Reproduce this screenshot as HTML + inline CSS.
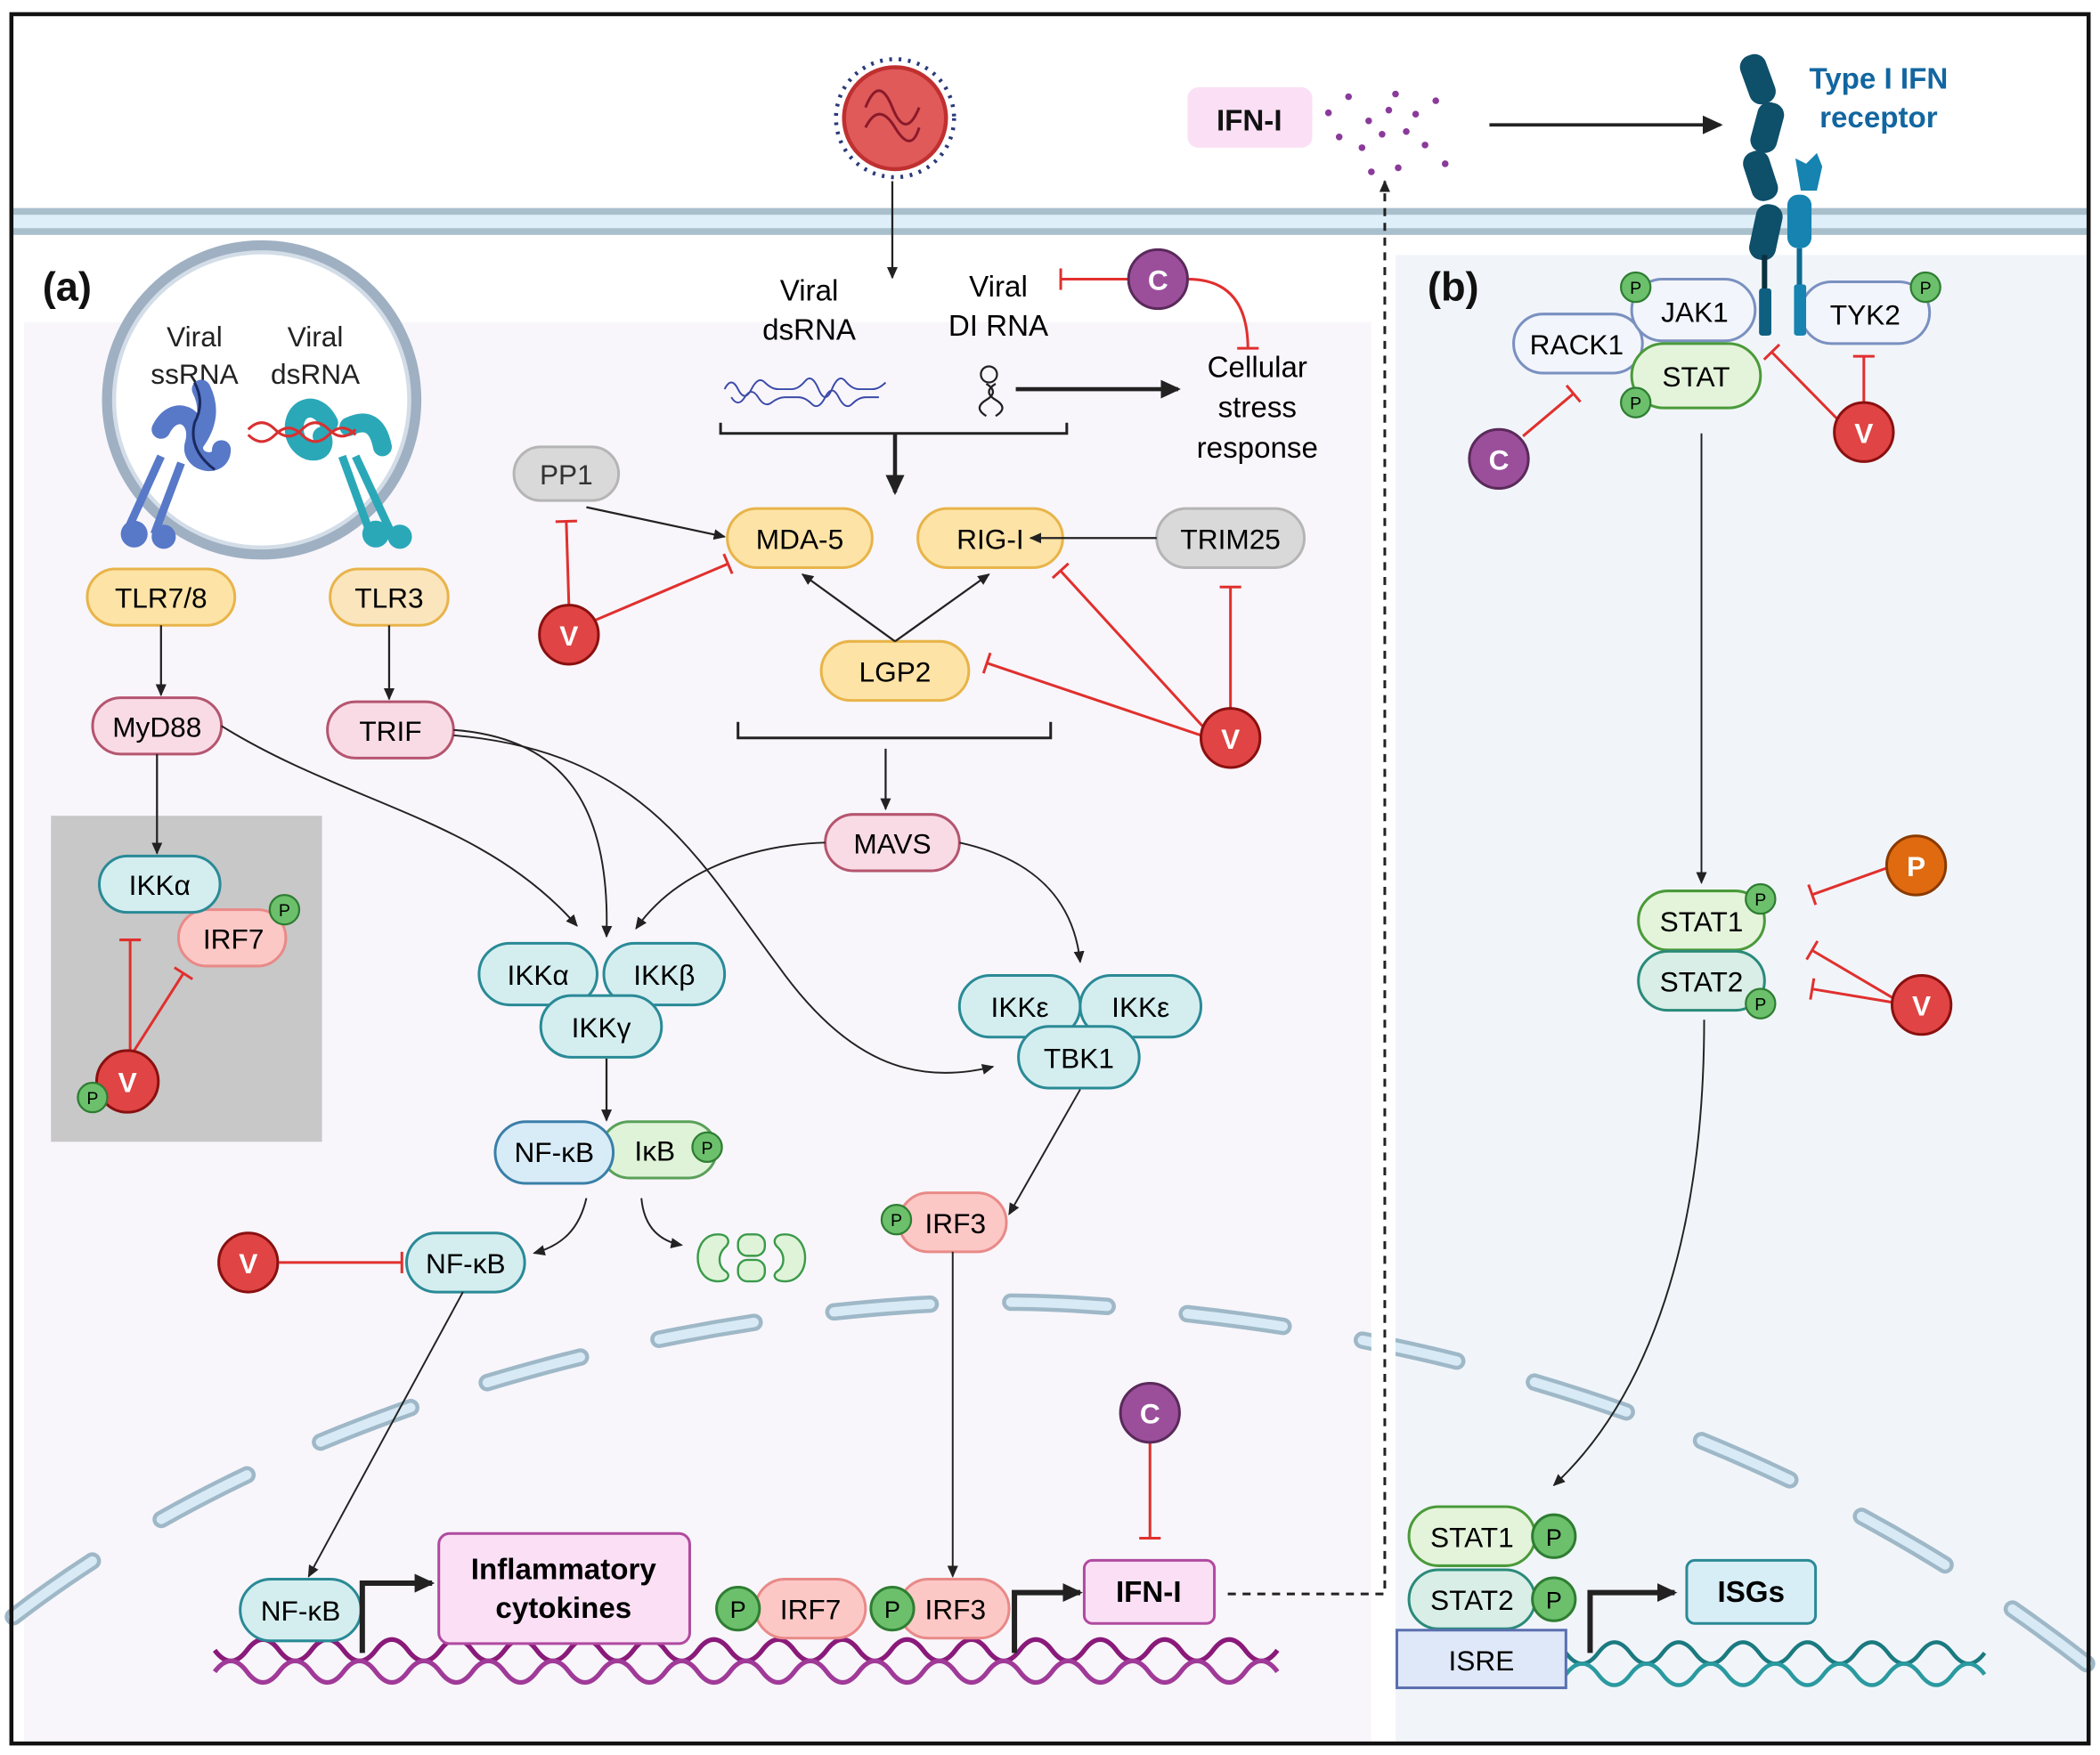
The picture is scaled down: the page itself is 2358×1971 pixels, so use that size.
<!DOCTYPE html>
<html><head><meta charset="utf-8">
<style>
html,body{margin:0;padding:0;background:#fff;}
svg{display:block;}
text{font-family:"Liberation Sans",sans-serif;}
</style></head><body>
<svg width="2358" height="1971" viewBox="0 0 1565 1308" xmlns="http://www.w3.org/2000/svg">
<defs>
<marker id="ar" markerWidth="10" markerHeight="10" refX="8" refY="5" orient="auto" markerUnits="userSpaceOnUse"><path d="M0,1 L9,5 L0,9 Z" fill="#222"/></marker>
<marker id="arb" markerWidth="16" markerHeight="16" refX="13" refY="8" orient="auto" markerUnits="userSpaceOnUse"><path d="M0,1 L15,8 L0,15 Z" fill="#222"/></marker>
<marker id="bar" markerWidth="4" markerHeight="20" refX="2" refY="10" orient="auto" markerUnits="userSpaceOnUse"><rect x="0.5" y="2" width="2" height="16" fill="#e0302e"/></marker>
</defs>
<rect x="0" y="0" width="1565" height="1308" fill="#fff"/>
<rect x="18" y="240" width="1004" height="1058" fill="#f8f6fb"/>
<rect x="1040" y="190" width="515" height="1108" fill="#f1f5f9"/>
<rect x="10" y="155" width="1545" height="20" fill="#dfeff9"/>
<rect x="10" y="155" width="1545" height="5" fill="#a9bfcc"/>
<rect x="10" y="170" width="1545" height="5" fill="#a9bfcc"/>
<path d="M10,1205 C 250,1020 600,960 800,972 C 1100,990 1350,1080 1555,1240" fill="none" stroke="#9fb8c8" stroke-width="13" stroke-linecap="round" stroke-dasharray="72 60"/>
<path d="M10,1205 C 250,1020 600,960 800,972 C 1100,990 1350,1080 1555,1240" fill="none" stroke="#d8eaf5" stroke-width="7" stroke-linecap="round" stroke-dasharray="72 60"/>
<rect x="1022" y="960" width="18" height="338" fill="#fff"/>
<rect x="8.5" y="10.5" width="1548" height="1289" fill="none" stroke="#111" stroke-width="3"/>

<g>
<circle cx="667" cy="88" r="44" fill="none" stroke="#2a3a7a" stroke-width="3" stroke-dasharray="2 5"/>
<circle cx="667" cy="88" r="38" fill="#e05a5a" stroke="#c03030" stroke-width="3"/>
<path d="M645,80 q10,-25 20,0 t20,0 M645,95 q10,-20 22,0 t18,0" fill="none" stroke="#8a1a2a" stroke-width="2"/>
</g>
<rect x="885" y="65" width="93" height="45" rx="8" fill="#fbe0f5"/>
<text x="931" y="97" font-size="22" font-weight="bold" text-anchor="middle" fill="#111">IFN-I</text>
<g fill="#8a3a9a">
<circle cx="990" cy="84" r="2.5"/><circle cx="1005" cy="72" r="2.5"/><circle cx="1020" cy="90" r="2.5"/><circle cx="1040" cy="70" r="2.5"/><circle cx="1055" cy="85" r="2.5"/><circle cx="1070" cy="75" r="2.5"/><circle cx="998" cy="102" r="2.5"/><circle cx="1015" cy="110" r="2.5"/><circle cx="1030" cy="100" r="2.5"/><circle cx="1048" cy="98" r="2.5"/><circle cx="1062" cy="108" r="2.5"/><circle cx="1077" cy="122" r="2.5"/><circle cx="1022" cy="128" r="2.5"/><circle cx="1042" cy="125" r="2.5"/><circle cx="1035" cy="82" r="2.5"/>
</g>
<line x1="1110" y1="93" x2="1282" y2="93" stroke="#222" stroke-width="2.5" marker-end="url(#arb)"/>
<g>
<rect x="1300" y="40" width="20" height="38" rx="9" fill="#0e4f6a" transform="rotate(-20 1310 59)"/>
<rect x="1307" y="76" width="20" height="38" rx="9" fill="#0e4f6a" transform="rotate(15 1317 95)"/>
<rect x="1302" y="112" width="20" height="38" rx="9" fill="#0e4f6a" transform="rotate(-18 1312 131)"/>
<rect x="1306" y="152" width="20" height="42" rx="9" fill="#0e4f6a" transform="rotate(12 1316 173)"/>
<rect x="1313" y="190" width="4" height="60" fill="#0b3140"/>
<rect x="1311" y="215" width="9" height="35" rx="2" fill="#0e5f80"/>
<path d="M1338,118 l8,4 l8,-8 l4,10 l-4,18 l-12,0 z" fill="#1683b0"/>
<rect x="1332" y="145" width="18" height="40" rx="8" fill="#1683b0"/>
<rect x="1339" y="185" width="4" height="65" fill="#0e6a90"/>
<rect x="1337" y="212" width="9" height="38" rx="2" fill="#1683b0"/>
</g>
<text x="1400" y="66" font-size="22" font-weight="bold" text-anchor="middle" fill="#1266a0">Type I IFN</text>
<text x="1400" y="95" font-size="22" font-weight="bold" text-anchor="middle" fill="#1266a0">receptor</text>
<path d="M915,1188 L1032,1188 L1032,135" fill="none" stroke="#222" stroke-width="2" stroke-dasharray="6 5" marker-end="url(#ar)"/>

<text x="50" y="224" font-size="30" font-weight="bold" text-anchor="middle" fill="#111">(a)</text>
<text x="1083" y="224" font-size="30" font-weight="bold" text-anchor="middle" fill="#111">(b)</text>

<circle cx="195" cy="298" r="115" fill="#fff" stroke="#9fb0c2" stroke-width="8"/>
<circle cx="195" cy="298" r="110" fill="none" stroke="#d3dde8" stroke-width="3"/>
<g font-size="21" fill="#222" text-anchor="middle">
<text x="145" y="258">Viral</text><text x="145" y="286">ssRNA</text>
<text x="235" y="258">Viral</text><text x="235" y="286">dsRNA</text>
</g>
<path d="M120,320 c10,-20 30,-10 25,10 c-5,15 20,20 20,5 M150,290 q10,20 -5,40" fill="none" stroke="#5878c8" stroke-width="14" stroke-linecap="round"/>
<path d="M120,340 L95,395 M135,345 L115,398" stroke="#5878c8" stroke-width="6"/>
<circle cx="100" cy="398" r="10" fill="#5878c8"/><circle cx="122" cy="400" r="9" fill="#5878c8"/>
<path d="M145,285 q8,15 0,30 q-5,20 15,35" fill="none" stroke="#1a2a60" stroke-width="2"/>
<path d="M245,315 c-10,-20 -30,-10 -25,10 c5,15 25,15 20,0 M260,318 q20,-10 25,15" fill="none" stroke="#2aa8b8" stroke-width="14" stroke-linecap="round"/>
<path d="M255,340 L275,395 M265,340 L292,398" stroke="#2aa8b8" stroke-width="6"/>
<circle cx="280" cy="398" r="10" fill="#2aa8b8"/><circle cx="298" cy="400" r="9" fill="#2aa8b8"/>
<path d="M185,320 q10,-10 20,0 t20,0 t20,0 t20,0 M185,324 q10,10 20,0 t20,0 t20,0 t20,0" fill="none" stroke="#d83030" stroke-width="2"/>

<rect x="65" y="424" width="110" height="42" rx="21" fill="#fde3a6" stroke="#e8b44a" stroke-width="2"/>
<text x="120" y="453" font-size="21" text-anchor="middle">TLR7/8</text>
<rect x="246" y="424" width="88" height="42" rx="21" fill="#fbe5bd" stroke="#e8b44a" stroke-width="2"/>
<text x="290" y="453" font-size="21" text-anchor="middle">TLR3</text>
<line x1="120" y1="466" x2="120" y2="518" stroke="#222" stroke-width="1.5" marker-end="url(#ar)"/>
<line x1="290" y1="466" x2="290" y2="521" stroke="#222" stroke-width="1.5" marker-end="url(#ar)"/>
<rect x="69" y="520" width="96" height="42" rx="21" fill="#f9dbe6" stroke="#b5556f" stroke-width="2"/>
<text x="117" y="549" font-size="21" text-anchor="middle">MyD88</text>
<rect x="244" y="523" width="94" height="42" rx="21" fill="#f9dbe6" stroke="#b5556f" stroke-width="2"/>
<text x="291" y="552" font-size="21" text-anchor="middle">TRIF</text>

<rect x="38" y="608" width="202" height="243" fill="#c8c8c8"/>
<line x1="117" y1="562" x2="117" y2="636" stroke="#222" stroke-width="1.5" marker-end="url(#ar)"/>
<rect x="133" y="678" width="80" height="42" rx="21" fill="#fcc8c6" stroke="#e88a88" stroke-width="2"/>
<text x="174" y="707" font-size="21" text-anchor="middle">IRF7</text>
<rect x="74" y="638" width="90" height="42" rx="21" fill="#d4eef0" stroke="#2a8a96" stroke-width="2"/>
<text x="119" y="667" font-size="21" text-anchor="middle">IKKα</text>
<line x1="97" y1="785" x2="97" y2="700" stroke="#e0302e" stroke-width="2" marker-end="url(#bar)"/>
<line x1="100" y1="783" x2="137" y2="725" stroke="#e0302e" stroke-width="2" marker-end="url(#bar)"/>

<text x="603" y="224" font-size="22" text-anchor="middle">Viral</text>
<text x="603" y="253" font-size="22" text-anchor="middle">dsRNA</text>
<path d="M540,290 q5,-10 10,0 t10,0 t10,-5 t10,5 t10,0 t10,-6 t10,6 t10,0 t10,-6 t10,6 t10,0 t10,-5 M545,296 q5,8 10,0 t10,0 t10,4 t10,-4 t10,0 t10,5 t10,-5 t10,0 t10,5 t10,-5 t10,0" fill="none" stroke="#3a4aa8" stroke-width="1.3"/>
<text x="744" y="221" font-size="22" text-anchor="middle">Viral</text>
<text x="744" y="250" font-size="22" text-anchor="middle">DI RNA</text>
<circle cx="737" cy="279" r="6" fill="none" stroke="#222" stroke-width="1.5"/>
<path d="M735,286 q10,6 0,12 t0,12 M742,286 q-10,6 0,12 t0,12" fill="none" stroke="#222" stroke-width="1.5"/>
<line x1="757" y1="290" x2="878" y2="290" stroke="#222" stroke-width="3" marker-end="url(#arb)"/>
<g font-size="22" text-anchor="middle"><text x="937" y="281">Cellular</text><text x="937" y="311">stress</text><text x="937" y="341">response</text></g>
<line x1="665" y1="135" x2="665" y2="207" stroke="#222" stroke-width="1.5" marker-end="url(#ar)"/>
<path d="M537,315 L537,323 L795,323 L795,315" fill="none" stroke="#222" stroke-width="2"/>
<line x1="667" y1="323" x2="667" y2="367" stroke="#222" stroke-width="3" marker-end="url(#arb)"/>
<line x1="841" y1="208" x2="790" y2="208" stroke="#e0302e" stroke-width="2" marker-end="url(#bar)"/>
<path d="M885,208 q45,0 45,52" fill="none" stroke="#e0302e" stroke-width="2" marker-end="url(#bar)"/>
<circle cx="863" cy="208" r="22" fill="#9b4f9b" stroke="#5a2a5a" stroke-width="2"/>
<text x="863" y="216" font-size="21" font-weight="bold" text-anchor="middle" fill="#fff">C</text>

<rect x="383" y="333" width="78" height="40" rx="20" fill="#d9d9d9" stroke="#b5b5b5" stroke-width="2"/>
<text x="422" y="361" font-size="21" text-anchor="middle" fill="#333">PP1</text>
<line x1="437" y1="378" x2="540" y2="400" stroke="#222" stroke-width="1.5" marker-end="url(#ar)"/>
<rect x="542" y="379" width="108" height="44" rx="22" fill="#fde3a6" stroke="#e8b44a" stroke-width="2"/>
<text x="596" y="409" font-size="21" text-anchor="middle">MDA-5</text>
<rect x="684" y="379" width="108" height="44" rx="22" fill="#fde3a6" stroke="#e8b44a" stroke-width="2"/>
<text x="738" y="409" font-size="21" text-anchor="middle">RIG-I</text>
<rect x="862" y="379" width="110" height="44" rx="22" fill="#d9d9d9" stroke="#b5b5b5" stroke-width="2"/>
<text x="917" y="409" font-size="21" text-anchor="middle">TRIM25</text>
<line x1="862" y1="401" x2="768" y2="401" stroke="#222" stroke-width="1.5" marker-end="url(#ar)"/>
<line x1="424" y1="452" x2="422" y2="388" stroke="#e0302e" stroke-width="2" marker-end="url(#bar)"/>
<line x1="444" y1="462" x2="543" y2="420" stroke="#e0302e" stroke-width="2" marker-end="url(#bar)"/>
<circle cx="424" cy="473" r="22" fill="#e04444" stroke="#8a1010" stroke-width="2"/>
<text x="424" y="481" font-size="21" font-weight="bold" text-anchor="middle" fill="#fff">V</text>
<rect x="612" y="478" width="110" height="44" rx="22" fill="#fde3a6" stroke="#e8b44a" stroke-width="2"/>
<text x="667" y="508" font-size="21" text-anchor="middle">LGP2</text>
<line x1="667" y1="478" x2="598" y2="428" stroke="#222" stroke-width="1.5" marker-end="url(#ar)"/>
<line x1="667" y1="478" x2="737" y2="428" stroke="#222" stroke-width="1.5" marker-end="url(#ar)"/>
<line x1="917" y1="528" x2="917" y2="437" stroke="#e0302e" stroke-width="2" marker-end="url(#bar)"/>
<line x1="896" y1="541" x2="790" y2="425" stroke="#e0302e" stroke-width="2" marker-end="url(#bar)"/>
<line x1="895" y1="548" x2="735" y2="494" stroke="#e0302e" stroke-width="2" marker-end="url(#bar)"/>
<circle cx="917" cy="550" r="22" fill="#e04444" stroke="#8a1010" stroke-width="2"/>
<text x="917" y="558" font-size="21" font-weight="bold" text-anchor="middle" fill="#fff">V</text>
<path d="M550,538 L550,550 L783,550 L783,538" fill="none" stroke="#222" stroke-width="2"/>
<line x1="660" y1="558" x2="660" y2="603" stroke="#222" stroke-width="1.5" marker-end="url(#ar)"/>
<rect x="615" y="607" width="100" height="42" rx="21" fill="#f9dbe6" stroke="#b5556f" stroke-width="2"/>
<text x="665" y="636" font-size="21" text-anchor="middle">MAVS</text>

<path d="M165,541 C 260,600 360,610 430,690" fill="none" stroke="#222" stroke-width="1.3" marker-end="url(#ar)"/>
<path d="M338,544 C 420,550 455,600 452,698" fill="none" stroke="#222" stroke-width="1.3" marker-end="url(#ar)"/>
<path d="M338,548 C 480,560 520,640 580,720 C 630,790 680,810 740,795" fill="none" stroke="#222" stroke-width="1.3" marker-end="url(#ar)"/>
<path d="M615,628 C 550,630 500,655 474,692" fill="none" stroke="#222" stroke-width="1.3" marker-end="url(#ar)"/>
<path d="M715,628 C 770,640 800,670 805,717" fill="none" stroke="#222" stroke-width="1.3" marker-end="url(#ar)"/>

<rect x="357" y="703" width="88" height="46" rx="23" fill="#d4eef0" stroke="#2a8a96" stroke-width="2"/>
<text x="401" y="734" font-size="21" text-anchor="middle">IKKα</text>
<rect x="450" y="703" width="90" height="46" rx="23" fill="#d4eef0" stroke="#2a8a96" stroke-width="2"/>
<text x="495" y="734" font-size="21" text-anchor="middle">IKKβ</text>
<rect x="403" y="742" width="90" height="46" rx="23" fill="#d4eef0" stroke="#2a8a96" stroke-width="2"/>
<text x="448" y="773" font-size="21" text-anchor="middle">IKKγ</text>
<rect x="715" y="727" width="90" height="46" rx="23" fill="#d4eef0" stroke="#2a8a96" stroke-width="2"/>
<text x="760" y="758" font-size="21" text-anchor="middle">IKKε</text>
<rect x="805" y="727" width="90" height="46" rx="23" fill="#d4eef0" stroke="#2a8a96" stroke-width="2"/>
<text x="850" y="758" font-size="21" text-anchor="middle">IKKε</text>
<rect x="759" y="765" width="90" height="46" rx="23" fill="#d4eef0" stroke="#2a8a96" stroke-width="2"/>
<text x="804" y="796" font-size="21" text-anchor="middle">TBK1</text>

<line x1="452" y1="789" x2="452" y2="835" stroke="#222" stroke-width="1.5" marker-end="url(#ar)"/>
<rect x="448" y="836" width="86" height="42" rx="21" fill="#dff3d8" stroke="#5aa05a" stroke-width="2"/>
<text x="488" y="865" font-size="21" text-anchor="middle">IκB</text>
<rect x="369" y="836" width="88" height="46" rx="23" fill="#d8ecf8" stroke="#3a7fa8" stroke-width="2"/>
<text x="413" y="866" font-size="21" text-anchor="middle">NF-κB</text>
<circle cx="527" cy="855" r="11" fill="#6cc06c" stroke="#2e7d32" stroke-width="1.5"/><text x="527" y="860" font-size="13" text-anchor="middle">P</text>
<path d="M437,893 C 432,915 420,928 398,934" fill="none" stroke="#222" stroke-width="1.3" marker-end="url(#ar)"/>
<path d="M478,893 C 480,915 492,925 508,928" fill="none" stroke="#222" stroke-width="1.3" marker-end="url(#ar)"/>
<g fill="#dff3d8" stroke="#3a9a4a" stroke-width="1.6">
<path d="M535,920 c-20,0 -20,35 0,35 c8,0 10,-5 5,-8 c-5,-4 -5,-12 0,-17 c5,-4 3,-10 -5,-10 z"/>
<rect x="550" y="920" width="20" height="16" rx="7"/><rect x="550" y="939" width="20" height="16" rx="7"/>
<path d="M585,920 c20,0 20,35 0,35 c-8,0 -10,-5 -5,-8 c5,-4 5,-12 0,-17 c-5,-4 -3,-10 5,-10 z"/>
</g>
<line x1="208" y1="941" x2="300" y2="941" stroke="#e0302e" stroke-width="2" marker-end="url(#bar)"/>
<circle cx="185" cy="941" r="22" fill="#e04444" stroke="#8a1010" stroke-width="2"/>
<text x="185" y="949" font-size="21" font-weight="bold" text-anchor="middle" fill="#fff">V</text>
<rect x="303" y="919" width="88" height="44" rx="22" fill="#d4eef0" stroke="#2a8a96" stroke-width="2"/>
<text x="347" y="949" font-size="21" text-anchor="middle">NF-κB</text>

<line x1="805" y1="812" x2="752" y2="905" stroke="#222" stroke-width="1.3" marker-end="url(#ar)"/>
<rect x="670" y="889" width="80" height="44" rx="22" fill="#fcc8c6" stroke="#e88a88" stroke-width="2"/>
<text x="712" y="919" font-size="21" text-anchor="middle">IRF3</text>
<circle cx="668" cy="909" r="11" fill="#6cc06c" stroke="#2e7d32" stroke-width="1.5"/><text x="668" y="914" font-size="13" text-anchor="middle">P</text>
<line x1="710" y1="933" x2="710" y2="1175" stroke="#222" stroke-width="1.3" marker-end="url(#ar)"/>
<line x1="345" y1="963" x2="230" y2="1175" stroke="#222" stroke-width="1.3" marker-end="url(#ar)"/>

<line x1="857" y1="1075" x2="857" y2="1147" stroke="#e0302e" stroke-width="2" marker-end="url(#bar)"/>
<circle cx="857" cy="1053" r="22" fill="#9b4f9b" stroke="#5a2a5a" stroke-width="2"/>
<text x="857" y="1061" font-size="21" font-weight="bold" text-anchor="middle" fill="#fff">C</text>

<path d="M160,1230 q12,16 24,0 t24,0 t24,0 t24,0 t24,0 t24,0 t24,0 t24,0 t24,0 t24,0 t24,0 t24,0 t24,0 t24,0 t24,0 t24,0 t24,0 t24,0 t24,0 t24,0 t24,0 t24,0 t24,0 t24,0 t24,0 t24,0 t24,0 t24,0 t24,0 t24,0 t24,0 t24,0 t24,0" fill="none" stroke="#8a1a7a" stroke-width="3.5"/>
<path d="M160,1246 q12,-16 24,0 t24,0 t24,0 t24,0 t24,0 t24,0 t24,0 t24,0 t24,0 t24,0 t24,0 t24,0 t24,0 t24,0 t24,0 t24,0 t24,0 t24,0 t24,0 t24,0 t24,0 t24,0 t24,0 t24,0 t24,0 t24,0 t24,0 t24,0 t24,0 t24,0 t24,0 t24,0 t24,0" fill="none" stroke="#a03a98" stroke-width="3.5"/>
<rect x="179" y="1177" width="90" height="46" rx="23" fill="#d4eef0" stroke="#2a8a96" stroke-width="2"/>
<text x="224" y="1208" font-size="21" text-anchor="middle">NF-κB</text>
<path d="M270,1232 L270,1180 L322,1180" fill="none" stroke="#222" stroke-width="4" marker-end="url(#arb)"/>
<rect x="327" y="1143" width="187" height="82" rx="8" fill="#fbe0f5" stroke="#b04aa0" stroke-width="2"/>
<text x="420" y="1177" font-size="22" font-weight="bold" text-anchor="middle">Inflammatory</text>
<text x="420" y="1206" font-size="22" font-weight="bold" text-anchor="middle">cytokines</text>
<rect x="563" y="1177" width="82" height="44" rx="22" fill="#fcc8c6" stroke="#e88a88" stroke-width="2"/>
<text x="604" y="1207" font-size="21" text-anchor="middle">IRF7</text>
<circle cx="550" cy="1199" r="16" fill="#6cc06c" stroke="#2e7d32" stroke-width="2"/><text x="550" y="1206" font-size="18" text-anchor="middle">P</text>
<rect x="670" y="1177" width="82" height="44" rx="22" fill="#fcc8c6" stroke="#e88a88" stroke-width="2"/>
<text x="712" y="1207" font-size="21" text-anchor="middle">IRF3</text>
<circle cx="665" cy="1199" r="16" fill="#6cc06c" stroke="#2e7d32" stroke-width="2"/><text x="665" y="1206" font-size="18" text-anchor="middle">P</text>
<path d="M756,1232 L756,1187 L805,1187" fill="none" stroke="#222" stroke-width="4" marker-end="url(#arb)"/>
<rect x="808" y="1163" width="97" height="47" rx="6" fill="#fbe0f5" stroke="#b04aa0" stroke-width="2"/>
<text x="856" y="1194" font-size="22" font-weight="bold" text-anchor="middle">IFN-I</text>

<circle cx="95" cy="806" r="23" fill="#e04444" stroke="#8a1010" stroke-width="2"/>
<text x="95" y="814" font-size="21" font-weight="bold" text-anchor="middle" fill="#fff">V</text>
<circle cx="69" cy="818" r="11" fill="#6cc06c" stroke="#2e7d32" stroke-width="1.5"/><text x="69" y="823" font-size="13" text-anchor="middle">P</text>
<circle cx="212" cy="678" r="11" fill="#6cc06c" stroke="#2e7d32" stroke-width="1.5"/><text x="212" y="683" font-size="13" text-anchor="middle">P</text>

<rect x="1128" y="234" width="96" height="44" rx="22" fill="#f2f5fb" stroke="#7a90c0" stroke-width="2"/>
<text x="1175" y="264" font-size="21" text-anchor="middle">RACK1</text>
<rect x="1216" y="208" width="92" height="46" rx="23" fill="#f2f5fb" stroke="#7a90c0" stroke-width="2"/>
<text x="1263" y="240" font-size="21" text-anchor="middle">JAK1</text>
<rect x="1216" y="256" width="96" height="48" rx="24" fill="#e4f4da" stroke="#4a9a3a" stroke-width="2"/>
<text x="1264" y="288" font-size="21" text-anchor="middle">STAT</text>
<rect x="1342" y="210" width="96" height="46" rx="23" fill="#f2f5fb" stroke="#7a90c0" stroke-width="2"/>
<text x="1390" y="242" font-size="21" text-anchor="middle">TYK2</text>
<circle cx="1219" cy="214" r="11" fill="#6cc06c" stroke="#2e7d32" stroke-width="1.5"/><text x="1219" y="219" font-size="13" text-anchor="middle">P</text>
<circle cx="1219" cy="300" r="11" fill="#6cc06c" stroke="#2e7d32" stroke-width="1.5"/><text x="1219" y="305" font-size="13" text-anchor="middle">P</text>
<circle cx="1435" cy="214" r="11" fill="#6cc06c" stroke="#2e7d32" stroke-width="1.5"/><text x="1435" y="219" font-size="13" text-anchor="middle">P</text>
<rect x="1311" y="215" width="9" height="35" rx="2" fill="#0e5f80"/>
<rect x="1337" y="212" width="9" height="38" rx="2" fill="#1683b0"/>
<line x1="1135" y1="325" x2="1173" y2="293" stroke="#e0302e" stroke-width="2" marker-end="url(#bar)"/>
<circle cx="1117" cy="342" r="22" fill="#9b4f9b" stroke="#5a2a5a" stroke-width="2"/>
<text x="1117" y="350" font-size="21" font-weight="bold" text-anchor="middle" fill="#fff">C</text>
<line x1="1389" y1="300" x2="1389" y2="265" stroke="#e0302e" stroke-width="2" marker-end="url(#bar)"/>
<line x1="1369" y1="312" x2="1320" y2="262" stroke="#e0302e" stroke-width="2" marker-end="url(#bar)"/>
<circle cx="1389" cy="322" r="22" fill="#e04444" stroke="#8a1010" stroke-width="2"/>
<text x="1389" y="330" font-size="21" font-weight="bold" text-anchor="middle" fill="#fff">V</text>
<line x1="1268" y1="323" x2="1268" y2="658" stroke="#222" stroke-width="1.3" marker-end="url(#ar)"/>
<rect x="1221" y="664" width="94" height="44" rx="22" fill="#e4f4da" stroke="#4a9a3a" stroke-width="2"/>
<text x="1268" y="694" font-size="21" text-anchor="middle">STAT1</text>
<rect x="1221" y="709" width="94" height="44" rx="22" fill="#d8eee6" stroke="#2a8a7a" stroke-width="2"/>
<text x="1268" y="739" font-size="21" text-anchor="middle">STAT2</text>
<circle cx="1312" cy="670" r="11" fill="#6cc06c" stroke="#2e7d32" stroke-width="1.5"/><text x="1312" y="675" font-size="13" text-anchor="middle">P</text>
<circle cx="1312" cy="748" r="11" fill="#6cc06c" stroke="#2e7d32" stroke-width="1.5"/><text x="1312" y="753" font-size="13" text-anchor="middle">P</text>
<line x1="1406" y1="647" x2="1350" y2="667" stroke="#e0302e" stroke-width="2" marker-end="url(#bar)"/>
<circle cx="1428" cy="645" r="22" fill="#e06a10" stroke="#8a3a00" stroke-width="2"/>
<text x="1428" y="653" font-size="21" font-weight="bold" text-anchor="middle" fill="#fff">P</text>
<line x1="1411" y1="744" x2="1350" y2="708" stroke="#e0302e" stroke-width="2" marker-end="url(#bar)"/>
<line x1="1410" y1="747" x2="1350" y2="737" stroke="#e0302e" stroke-width="2" marker-end="url(#bar)"/>
<circle cx="1432" cy="749" r="22" fill="#e04444" stroke="#8a1010" stroke-width="2"/>
<text x="1432" y="757" font-size="21" font-weight="bold" text-anchor="middle" fill="#fff">V</text>
<path d="M1270,760 C 1270,920 1230,1040 1158,1107" fill="none" stroke="#222" stroke-width="1.3" marker-end="url(#ar)"/>
<path d="M1167,1232 q12,16 24,0 t24,0 t24,0 t24,0 t24,0 t24,0 t24,0 t24,0 t24,0 t24,0 t24,0 t24,0 t24,0" fill="none" stroke="#1a7a80" stroke-width="3"/>
<path d="M1167,1248 q12,-16 24,0 t24,0 t24,0 t24,0 t24,0 t24,0 t24,0 t24,0 t24,0 t24,0 t24,0 t24,0 t24,0" fill="none" stroke="#2a9aa0" stroke-width="3"/>
<rect x="1050" y="1123" width="94" height="44" rx="22" fill="#e4f4da" stroke="#4a9a3a" stroke-width="2"/>
<text x="1097" y="1153" font-size="21" text-anchor="middle">STAT1</text>
<rect x="1050" y="1170" width="94" height="44" rx="22" fill="#d8eee6" stroke="#2a8a7a" stroke-width="2"/>
<text x="1097" y="1200" font-size="21" text-anchor="middle">STAT2</text>
<circle cx="1158" cy="1145" r="16" fill="#6cc06c" stroke="#2e7d32" stroke-width="2"/><text x="1158" y="1152" font-size="18" text-anchor="middle">P</text>
<circle cx="1158" cy="1192" r="16" fill="#6cc06c" stroke="#2e7d32" stroke-width="2"/><text x="1158" y="1199" font-size="18" text-anchor="middle">P</text>
<rect x="1041" y="1215" width="126" height="43" fill="#dfe8f8" stroke="#5a6fb0" stroke-width="2"/>
<text x="1104" y="1245" font-size="21" text-anchor="middle">ISRE</text>
<path d="M1185,1232 L1185,1187 L1248,1187" fill="none" stroke="#222" stroke-width="4" marker-end="url(#arb)"/>
<rect x="1257" y="1163" width="96" height="47" rx="6" fill="#d8eef6" stroke="#2a8a96" stroke-width="2"/>
<text x="1305" y="1194" font-size="22" font-weight="bold" text-anchor="middle">ISGs</text>
</svg>
</body></html>
